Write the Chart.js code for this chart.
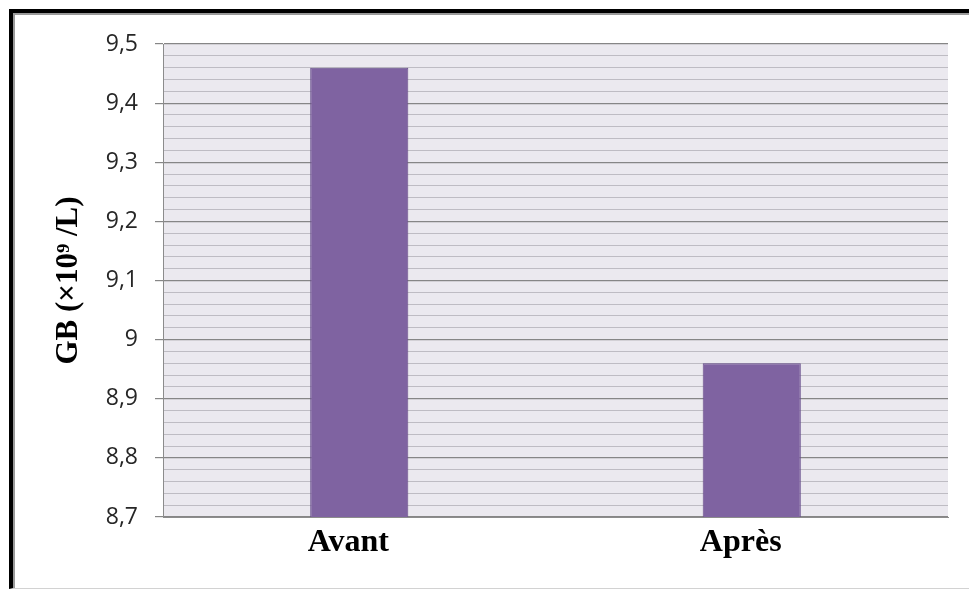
<!DOCTYPE html>
<html lang="fr">
<head>
<meta charset="utf-8">
<title>GB avant / après</title>
<script src="https://cdn.jsdelivr.net/npm/chart.js@4.4.1/dist/chart.umd.min.js"></script>
<style>
    html, body { margin: 0; padding: 0; background: #fff; }
    #wrap { position: relative; width: 969px; height: 590px; overflow: hidden; }
    #wrap canvas { position: absolute; left: 0; top: 0; }
    #frame {
        position: absolute; left: 9px; top: 9px; width: 1000px; height: 580px;
        box-sizing: border-box;
        border-left: 4px solid #000; border-top: 4px solid #000; border-bottom: 1px solid #d2d2d2;
        box-shadow: inset 2px 2px 0 #9a9a9a;
        pointer-events: none;
    }
</style>
</head>
<body>
<div id="wrap">
    <canvas id="gbChart" width="969" height="590"></canvas>
    <div id="frame"></div>
</div>
<script>
const categories = ["Avant", "Après"];
const gbValues = [9.46, 8.96];
const yMin = 8.7;
const yMax = 9.5;
const minorStep = 0.02;

// only every 0.1 gets a label, a tick mark and a darker line
function isMajor(value) {
    return Math.abs(value * 10 - Math.round(value * 10)) < 1e-6;
}

const plotBackground = {
    id: "plotBackground",
    beforeDraw(chart) {
        const { ctx, chartArea: a } = chart;
        ctx.save();
        ctx.fillStyle = "#ebe9ef";
        ctx.fillRect(a.left, a.top, a.right - a.left, a.bottom - a.top);
        ctx.restore();
    }
};

document.addEventListener("DOMContentLoaded", () => {
    const ctx = document.getElementById("gbChart").getContext("2d");
    new Chart(ctx, {
        type: "bar",
        data: {
            labels: categories,
            datasets: [{
                label: "GB",
                data: gbValues,
                backgroundColor: "#7f63a1",
                borderColor: "#664d8a",
                borderWidth: 1,
                barPercentage: 0.25,
                categoryPercentage: 1.0
            }]
        },
        options: {
            responsive: false,
            animation: false,
            layout: { padding: { top: 44, right: 21, left: 0, bottom: 0 } },
            plugins: {
                legend: { display: false },
                tooltip: { enabled: false }
            },
            scales: {
                x: {
                    afterFit: (scale) => { scale.height = 73; },
                    grid: { display: false, drawTicks: false },
                    border: { display: true, color: "#8c8c8c", width: 1 },
                    ticks: {
                        padding: 7,
                        labelOffset: -11,
                        color: "#000",
                        font: { family: "Liberation Serif", size: 32, weight: "bold" }
                    }
                },
                y: {
                    min: yMin,
                    max: yMax,
                    afterFit: (scale) => { scale.width = 163; },
                    grid: {
                        color: (c) => (c.tick && isMajor(c.tick.value)) ? "#868686" : "#bebcc3",
                        tickColor: (c) => (c.tick && isMajor(c.tick.value)) ? "#868686" : "rgba(0,0,0,0)",
                        tickLength: 8,
                        lineWidth: (c) => (c.tick && isMajor(c.tick.value)) ? 1.2 : 1
                    },
                    border: { display: true, color: "#8c8c8c", width: 1 },
                    ticks: {
                        stepSize: minorStep,
                        autoSkip: false,
                        padding: 17,
                        color: "#262626",
                        font: { family: "Open Sans", size: 23 },
                        callback: (value) => isMajor(value)
                            ? (Math.round(value * 10) / 10).toString().replace(".", ",")
                            : ""
                    },
                    title: {
                        display: true,
                        text: "GB (×10⁹ /L)",
                        color: "#000",
                        font: { family: "Liberation Serif", size: 31, weight: "bold" },
                        padding: { top: 50, bottom: 0 }
                    }
                }
            }
        },
        plugins: [plotBackground]
    });
});
</script>
</body>
</html>
